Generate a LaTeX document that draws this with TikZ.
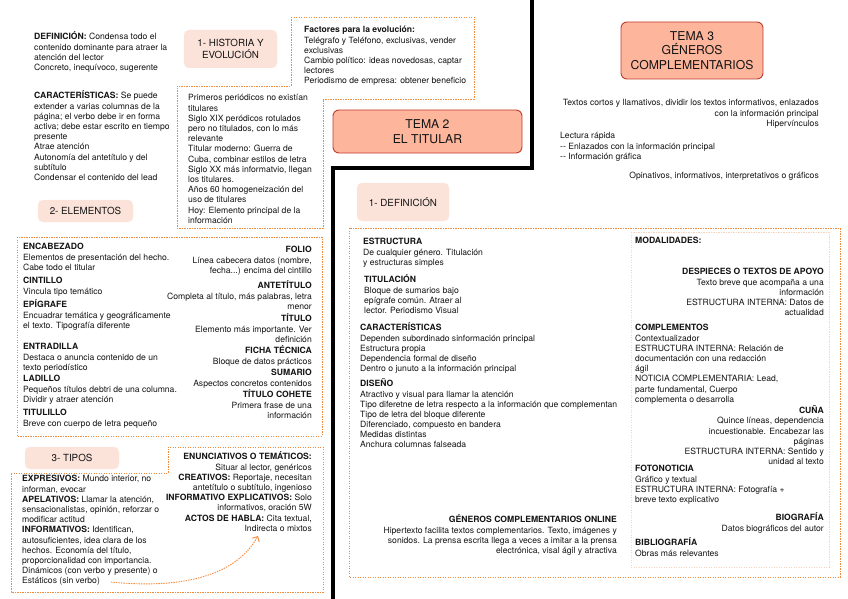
\documentclass[tikz,border=0pt]{standalone}
\usepackage{fontspec}
\setmainfont{TeX Gyre Heros}
\usetikzlibrary{arrows.meta}
\definecolor{orng}{HTML}{F28A3E}
\definecolor{pinkbox}{HTML}{FCE3DA}
\definecolor{salmon}{HTML}{FDB59C}
\definecolor{darkred}{HTML}{C23B2E}
\definecolor{txt}{HTML}{141414}
\definecolor{paleor}{HTML}{F8D3BE}
\newcommand\Fst{\rule{0pt}{7pt}}
\tikzset{
  t/.style={font=\fontsize{8.6}{10.2}\selectfont, inner sep=0pt, text=txt},
  tl/.style={t, align=left, anchor=north west},
  tr/.style={t, align=right, anchor=north east},
  dotline/.style={draw=orng, line width=0.9pt, dash pattern=on 1.4pt off 1.1pt},
  paleline/.style={draw=paleor, line width=0.8pt, dash pattern=on 1.4pt off 1.1pt},
  secbox/.style={fill=pinkbox, draw=pinkbox!80!white, rounded corners=5pt, inner sep=0pt, align=center, text=txt, font=\fontsize{9.8}{12}\selectfont},
  temabox/.style={fill=salmon, draw=darkred, line width=0.9pt, rounded corners=6pt, inner sep=0pt, align=center, text=txt, font=\fontsize{12.2}{14.5}\selectfont},
  sep/.style={line width=4.5pt, draw=black}
}
\begin{document}
\begin{tikzpicture}[x=1pt,y=-1pt]
\useasboundingbox (0,0) rectangle (848,599);

% black separator
\coordinate (s1) at (532,-5);
\coordinate (s2) at (532,168);
\coordinate (s3) at (333,168);
\coordinate (s4) at (333,605);
\draw[sep] (s1) -- (s2) -- (s3) -- (s4);

% dotted frames
\draw[dotline] (291,17) -- (474,17) -- (474,99) -- (323,99) -- (323,228) -- (177,228) -- (177,86) -- (291,86) -- cycle;
\draw[dotline] (17,237) rectangle (322,436);
\draw[dotline] (11,473) -- (168,473) -- (168,447) -- (323,447) -- (323,592) -- (11,592) -- cycle;
\draw[dotline] (349,228) rectangle (840,577);
\draw[paleline] (631,232) rectangle (829,567);

% section boxes
\node[secbox, minimum width=93pt, minimum height=38pt] (hist) at (230.5,49) {1- HISTORIA Y\\EVOLUCIÓN};
\node[secbox, minimum width=95pt, minimum height=22pt] (elem) at (85.5,211) {2- ELEMENTOS};
\node[secbox, minimum width=94pt, minimum height=22pt] (tipos) at (72,458) {3- TIPOS};
\node[secbox, minimum width=92pt, minimum height=38pt] (defi) at (403,202) {1- DEFINICIÓN};
\node[temabox, minimum width=189pt, minimum height=43pt] (tema2) at (427.5,131.5) {TEMA 2\\EL TITULAR};
\node[temabox, minimum width=142pt, minimum height=57pt] (tema3) at (692,50.5) {TEMA 3\\GÉNEROS\\COMPLEMENTARIOS};

% top-left texts
\node[tl] (def) at (34,31.7) {\Fst\textbf{DEFINICIÓN:} Condensa todo el\\contenido dominante para atraer la\\atención del lector\\Concreto, inequívoco, sugerente};
\node[tl] (car) at (34,90.7) {\Fst\textbf{CARACTERÍSTICAS:} Se puede\\extender a varias columnas de la\\página; el verbo debe ir en forma\\activa; debe estar escrito en tiempo\\presente\\Atrae atención\\Autonomía del antetítulo y del\\subtítulo\\Condensar el contenido del lead};
\node[tl] (fac) at (304,25.7) {\Fst\textbf{Factores para la evolución:}\\Telégrafo y Teléfono, exclusivas, vender\\exclusivas\\Cambio político: ideas novedosas, captar\\lectores\\Periodismo de empresa: obtener beneficio};
\node[tl] (prim) at (188,93.7) {\Fst Primeros periódicos no existían\\titulares\\Siglo XIX peródicos rotulados\\pero no titulados, con lo más\\relevante\\Titular moderno: Guerra de\\Cuba, combinar estilos de letra\\Siglo XX más informatvio, llegan\\los titulares.\\Años 60 homogeneización del\\uso de titulares\\Hoy: Elemento principal de la\\información};

% tema 3 texts
\node[tr] (tc) at (819,98.7) {\Fst Textos cortos y llamativos, dividir los textos informativos, enlazados\\con la información principal\\Hipervínculos};
\node[tl] (lr) at (560,131.7) {\Fst Lectura rápida\\-{}- Enlazados con la información principal\\-{}- Información gráfica};
\node[tr] (op) at (819,171.7) {\Fst Opinativos, informativos, interpretativos o gráficos};

% elementos
\node[tl] (e1) at (23,242.7) {\Fst\textbf{ENCABEZADO}\\Elementos de presentación del hecho.\\Cabe todo el titular};
\node[tl] (e2) at (23,276.7) {\Fst\textbf{CINTILLO}\\Vincula tipo temático};
\node[tl] (e3) at (23,299.7) {\Fst\textbf{EPÍGRAFE}\\Encuadrar temática y geográficamente\\el texto. Tipografía diferente};
\node[tl] (e4) at (23,342.7) {\Fst\textbf{ENTRADILLA}\\Destaca o anuncia contenido de un\\texto periodístico};
\node[tl] (e5) at (23,374.7) {\Fst\textbf{LADILLO}\\Pequeños títulos debtri de una columna.\\Dividir y atraer atención};
\node[tl] (e6) at (23,408.7) {\Fst\textbf{TITULILLO}\\Breve con cuerpo de letra pequeño};
\node[tr] (r1) at (312,245.7) {\Fst\textbf{FOLIO}\\Línea cabecera datos (nombre,\\fecha...) encima del cintillo};
\node[tr] (r2) at (312,280.7) {\Fst\textbf{ANTETÍTULO}\\Completa al título, más palabras, letra\\menor};
\node[tr] (r3) at (312,313.7) {\Fst\textbf{TÍTULO}\\Elemento más importante. Ver\\definición};
\node[tr] (r4) at (312,345.7) {\Fst\textbf{FICHA TÉCNICA}\\Bloque de datos prácticos};
\node[tr] (r5) at (312,368.7) {\Fst\textbf{SUMARIO}\\Aspectos concretos contenidos};
\node[tr] (r6) at (312,389.7) {\Fst\textbf{TÍTULO COHETE}\\Primera frase de una\\información};

% tipos
\node[tl] (tl1) at (22,474.7) {\Fst\textbf{EXPRESIVOS:} Mundo interior, no\\informan, evocar\\\textbf{APELATIVOS:} Llamar la atención,\\sensacionalistas, opinión, reforzar o\\modificar actitud\\\textbf{INFORMATIVOS:} Identifican,\\autosuficientes, idea clara de los\\hechos. Economía del título,\\proporcionalidad con importancia.\\Dinámicos (con verbo y presente) o\\Estáticos (sin verbo)};
\node[tr] (tr1) at (312,451.7) {\Fst\textbf{ENUNCIATIVOS O TEMÁTICOS:}\\Situar al lector, genéricos\\\textbf{CREATIVOS:} Reportaje, necesitan\\antetítulo o subtítulo, ingenioso\\\textbf{INFORMATIVO EXPLICATIVOS:} Solo\\informativos, oración 5W\\\textbf{ACTOS DE HABLA:} Cita textual,\\Indirecta o mixtos};
\coordinate (aS) at (111,582);
\coordinate (aE) at (258,536);
\draw[dotline, -{Straight Barb[length=4pt,width=8pt]}] (aS) .. controls (190,590) and (238,572) .. (aE);

% definicion
\node[tl] (d1) at (363,237.7) {\Fst\textbf{ESTRUCTURA}\\De cualquier género. Titulación\\y estructuras simples};
\node[tl] (d2) at (364,274.7) {\Fst\textbf{TITULACIÓN}\\Bloque de sumarios bajo\\epígrafe común. Atraer al\\lector. Periodismo Visual};
\node[tl] (d3) at (360,322.7) {\Fst\textbf{CARACTERÍSTICAS}\\Dependen subordinado sinformación principal\\Estructura propia\\Dependencia formal de diseño\\Dentro o junuto a la información principal};
\node[tl] (d4) at (360,378.7) {\Fst\textbf{DISEÑO}\\Atractivo y visual para llamar la atención\\Tipo diferetne de letra respecto a la información que complementan\\Tipo de letra del bloque diferente\\Diferenciado, compuesto en bandera\\Medidas distintas\\Anchura columnas falseada};
\node[tr] (d5) at (617,514.7) {\Fst\textbf{GÉNEROS COMPLEMENTARIOS ONLINE}\\Hipertexto facilita textos complementarios. Texto, imágenes y\\sonidos. La prensa escrita llega a veces a imitar a la prensa\\electrónica, visal ágil y atractiva};

% modalidades
\node[tl] (m0) at (635,236.7) {\Fst\textbf{MODALIDADES:}};
\node[tr] (m1) at (824,267.7) {\Fst\textbf{DESPIECES O TEXTOS DE APOYO}\\Texto breve que acompaña a una\\información\\ESTRUCTURA INTERNA: Datos de\\actualidad};
\node[tl] (m2) at (635,323.7) {\Fst\textbf{COMPLEMENTOS}\\Contextualizador\\ESTRUCTURA INTERNA: Relación de\\documentación con una redacción\\ágil\\NOTICIA COMPLEMENTARIA: Lead,\\parte fundamental, Cuerpo\\complementa o desarrolla};
\node[tr] (m3) at (824,405.7) {\Fst\textbf{CUÑA}\\Quince líneas, dependencia\\incuestionable. Encabezar las\\páginas\\ESTRUCTURA INTERNA: Sentido y\\unidad al texto};
\node[tl] (m4) at (635,464.7) {\Fst\textbf{FOTONOTICIA}\\Gráfico y textual\\ESTRUCTURA INTERNA: Fotografía +\\breve texto explicativo};
\node[tr] (m5) at (824,512.7) {\Fst\textbf{BIOGRAFÍA}\\Datos biográficos del autor};
\node[tl] (m6) at (635,537.7) {\Fst\textbf{BIBLIOGRAFÍA}\\Obras más relevantes};
\end{tikzpicture}
\end{document}
